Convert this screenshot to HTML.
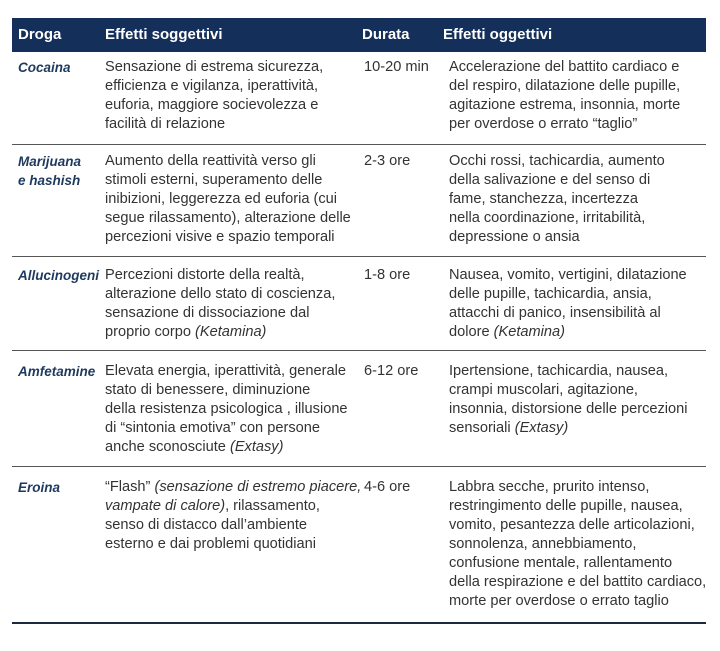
<!DOCTYPE html>
<html><head><meta charset="utf-8"><style>
body{margin:0;width:720px;height:651px;background:#fff;position:relative;overflow:hidden;font-family:"Liberation Sans",sans-serif;}
.h{position:absolute;left:12px;top:18px;width:694px;height:34px;background:#14305a;}
.ht{position:absolute;top:18px;line-height:34px;color:#fff;font-weight:bold;font-size:15px;}
.c{position:absolute;font-size:14.6px;line-height:19px;color:#333;white-space:nowrap;}
.d{position:absolute;font-size:13.5px;line-height:19px;color:#1f3a5f;font-style:italic;font-weight:bold;white-space:nowrap;}
.l{position:absolute;left:12px;width:694px;height:1px;background:#555;}
</style></head><body>
<div class="h"></div>
<div class="ht" style="left:18px">Droga</div>
<div class="ht" style="left:105px">Effetti soggettivi</div>
<div class="ht" style="left:362px">Durata</div>
<div class="ht" style="left:443px">Effetti oggettivi</div>

<div class="d" style="left:18px;top:58px">Cocaina</div>
<div class="c" style="left:105px;top:58px">Sensazione di estrema sicurezza,<br>efficienza e vigilanza, iperattività,<br>euforia, maggiore socievolezza e<br>facilità di relazione</div>
<div class="c" style="left:364px;top:58px">10-20 min</div>
<div class="c" style="left:449px;top:58px">Accelerazione del battito cardiaco e<br>del respiro, dilatazione delle pupille,<br>agitazione estrema, insonnia, morte<br>per overdose o errato “taglio”</div>
<div class="l" style="top:144px"></div>

<div class="d" style="left:18px;top:152px">Marijuana<br>e hashish</div>
<div class="c" style="left:105px;top:152px">Aumento della reattività verso gli<br>stimoli esterni, superamento delle<br>inibizioni, leggerezza ed euforia (cui<br>segue rilassamento), alterazione delle<br>percezioni visive e spazio temporali</div>
<div class="c" style="left:364px;top:152px">2-3 ore</div>
<div class="c" style="left:449px;top:152px">Occhi rossi, tachicardia, aumento<br>della salivazione e del senso di<br>fame, stanchezza, incertezza<br>nella coordinazione, irritabilità,<br>depressione o ansia</div>
<div class="l" style="top:256px"></div>

<div class="d" style="left:18px;top:266px">Allucinogeni</div>
<div class="c" style="left:105px;top:266px">Percezioni distorte della realtà,<br>alterazione dello stato di coscienza,<br>sensazione di dissociazione dal<br>proprio corpo <i>(Ketamina)</i></div>
<div class="c" style="left:364px;top:266px">1-8 ore</div>
<div class="c" style="left:449px;top:266px">Nausea, vomito, vertigini, dilatazione<br>delle pupille, tachicardia, ansia,<br>attacchi di panico, insensibilità al<br>dolore <i>(Ketamina)</i></div>
<div class="l" style="top:350px"></div>

<div class="d" style="left:18px;top:362px">Amfetamine</div>
<div class="c" style="left:105px;top:362px">Elevata energia, iperattività, generale<br>stato di benessere, diminuzione<br>della resistenza psicologica , illusione<br>di “sintonia emotiva” con persone<br>anche sconosciute <i>(Extasy)</i></div>
<div class="c" style="left:364px;top:362px">6-12 ore</div>
<div class="c" style="left:449px;top:362px">Ipertensione, tachicardia, nausea,<br>crampi muscolari, agitazione,<br>insonnia, distorsione delle percezioni<br>sensoriali <i>(Extasy)</i></div>
<div class="l" style="top:466px"></div>

<div class="d" style="left:18px;top:478px">Eroina</div>
<div class="c" style="left:105px;top:478px">“Flash” <i>(sensazione di estremo piacere,<br>vampate di calore)</i>, rilassamento,<br>senso di distacco dall’ambiente<br>esterno e dai problemi quotidiani</div>
<div class="c" style="left:364px;top:478px">4-6 ore</div>
<div class="c" style="left:449px;top:478px">Labbra secche, prurito intenso,<br>restringimento delle pupille, nausea,<br>vomito, pesantezza delle articolazioni,<br>sonnolenza, annebbiamento,<br>confusione mentale, rallentamento<br>della respirazione e del battito cardiaco,<br>morte per overdose o errato taglio</div>
<div class="l" style="top:622px;height:2px;background:#1a2a3a"></div>
</body></html>
